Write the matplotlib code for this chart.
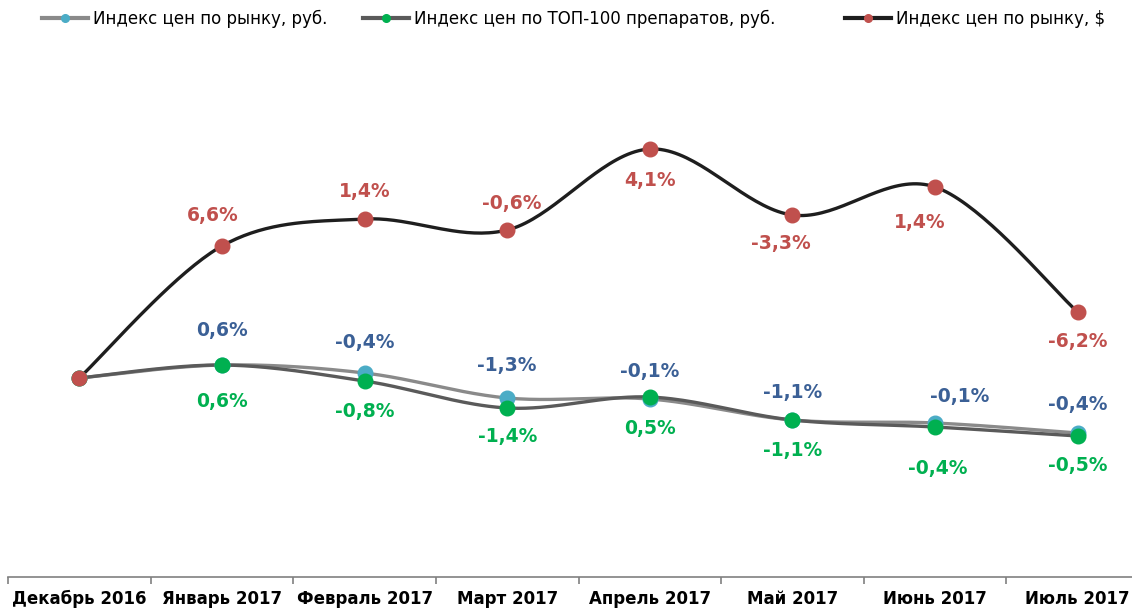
import numpy as np
import matplotlib.pyplot as plt

# Данные
months = ['Декабрь 2016', 'Январь 2017', 'Февраль 2017', 'Март 2017',
          'Апрель 2017', 'Май 2017', 'Июнь 2017', 'Июль 2017']

idx_rub = [100.0, 100.65, 100.25, 99.0, 98.95, 97.9, 97.75, 97.25]
idx_top = [100.0, 100.65, 99.85, 98.5, 99.05, 97.9, 97.55, 97.1]
idx_usd = [100.0, 106.6, 107.95, 107.4, 111.45, 108.15, 109.55, 103.3]

lbl_rub = ['', '0,6%', '-0,4%', '-1,3%', '-0,1%', '-1,1%', '-0,1%', '-0,4%']
lbl_top = ['', '0,6%', '-0,8%', '-1,4%', '0,5%', '-1,1%', '-0,4%', '-0,5%']
lbl_usd = ['', '6,6%', '1,4%', '-0,6%', '4,1%', '-3,3%', '1,4%', '-6,2%']

# смещения подписей (пиксели)
off_rub = [(0, 0), (0, 35), (0, 31), (0, 33), (0, 28), (0, 28), (25, 27), (0, 29)]
off_top = [(0, 0), (0, -36), (0, -30), (0, -28), (0, -31), (0, -30), (3, -41), (0, -29)]
off_usd = [(0, 0), (-9, 31), (0, 28), (5, 27), (0, -31), (-12, -28), (-15, -35), (0, -29)]

# положение легенды (x начала линии, пиксели)
leg_x = [42, 363, 845]


def smooth(x, y, n=40):
    # сглаживание кривой (Catmull-Rom), как в Excel
    x = np.asarray(x, float)
    y = np.asarray(y, float)
    px = np.concatenate([[x[0]], x, [x[-1]]])
    py = np.concatenate([[y[0]], y, [y[-1]]])
    xs, ys = [], []
    t = np.linspace(0, 1, n)
    for i in range(1, len(px) - 2):
        for p, out in ((px, xs), (py, ys)):
            p0, p1, p2, p3 = p[i - 1], p[i], p[i + 1], p[i + 2]
            out.extend(0.5 * (2 * p1 + (-p0 + p2) * t
                              + (2 * p0 - 5 * p1 + 4 * p2 - p3) * t ** 2
                              + (-p0 + 3 * p1 - 3 * p2 + p3) * t ** 3))
    return xs, ys


plt.rcParams['font.family'] = ['DejaVu Sans']

fig = plt.figure(figsize=(11.32, 6.08), dpi=100)
ax = fig.add_axes([8 / 1132, 1 - 577 / 608, 1141 / 1132, 517 / 608])

x = np.arange(len(months))
series = [
    (idx_rub, lbl_rub, off_rub, '#8a8a8a', '#4bacc6', '#3b6096', 'Индекс цен по рынку, руб.'),
    (idx_top, lbl_top, off_top, '#5a5a5a', '#00b050', '#00b050', 'Индекс цен по ТОП-100 препаратов, руб.'),
    (idx_usd, lbl_usd, off_usd, '#1e1e1e', '#c0504d', '#c0504d', 'Индекс цен по рынку, $'),
]

for k, (vals, lbls, offs, lc, mc, tc, name) in enumerate(series):
    sx, sy = smooth(x, vals)
    ax.plot(sx, sy, color=lc, lw=2.4, solid_capstyle='round', zorder=2)
    ax.plot(x, vals, 'o', color=mc, ms=10.5, mec=mc, zorder=3)
    h, = ax.plot([], [], color=lc, lw=3, marker='o', ms=5.5, mfc=mc, mec=mc, label=name)
    for xi, v, s, (dx, dy) in zip(x, vals, lbls, offs):
        if s:
            ax.annotate(s, (xi, v), xytext=(dx, dy), textcoords='offset pixels',
                        ha='center', va='center', color=tc, fontsize=13.5,
                        fontweight='bold', zorder=4)
    leg = fig.legend(handles=[h], loc='center left',
                     bbox_to_anchor=(leg_x[k] / 1132, 1 - 19 / 608),
                     frameon=False, fontsize=12, handlelength=2.75,
                     handletextpad=0.3, borderpad=0, borderaxespad=0)

ax.set_xlim(-0.5, len(months) - 0.5)
ax.set_ylim(100 - 199 / 20, 100 + 318 / 20)

for s in ['top', 'right', 'left']:
    ax.spines[s].set_visible(False)
ax.spines['bottom'].set_color('#808080')
ax.spines['bottom'].set_linewidth(1.2)
ax.set_yticks([])

ax.set_xticks(x)
ax.set_xticklabels(months, fontsize=12, fontweight='bold')
ax.tick_params(axis='x', which='major', length=0, pad=9.5)
ax.set_xticks(np.arange(-0.5, len(months)), minor=True)
ax.tick_params(axis='x', which='minor', length=5, color='#808080', width=1.2)

plt.savefig('out.png', dpi=100)
